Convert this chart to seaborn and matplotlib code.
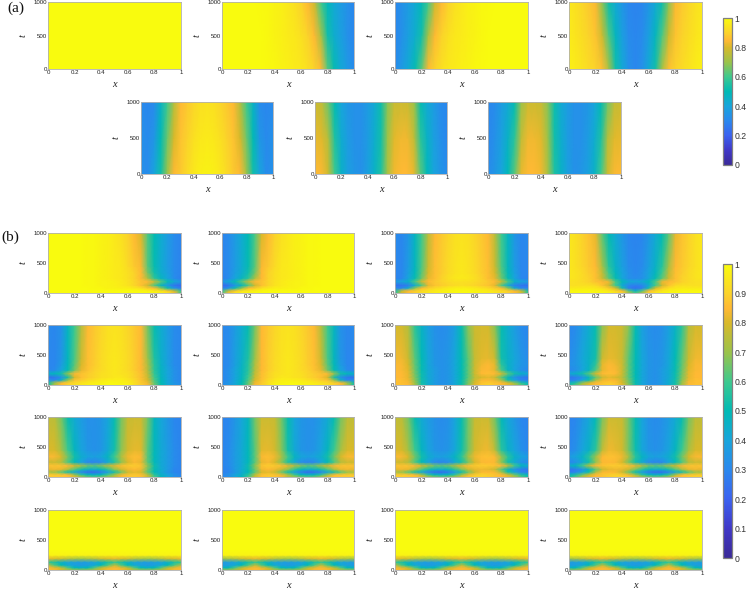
import numpy as np
import matplotlib
matplotlib.use('Agg')
import matplotlib.pyplot as plt
from matplotlib.colors import LinearSegmentedColormap
import seaborn as sns

W, H = 747, 589

T_A = [0, 500, 1000]
T_B = [0, 40, 85, 130, 190, 250, 340, 450, 1000]

A1 = [[1] * 21] * 3
A2 = [[1, 1, 1, 1, 1, 1, 1, .995, .99, .98, .97, .96, .95, .93, .9, .85, .63, .51, .42, .36, .31],
      [1, 1, 1, 1, 1, 1, 1, .99, .98, .97, .96, .95, .93, .9, .85, .72, .53, .44, .385, .33, .3],
      [1, 1, 1, 1, 1, 1, .995, .99, .98, .97, .95, .93, .9, .85, .78, .6, .49, .42, .37, .33, .3]]
A4 = [[.97, .96, .94, .92, .9, .86, .72, .53, .42, .33, .3, .33, .42, .53, .72, .86, .9, .92, .94, .96, .97],
      [.96, .945, .925, .9, .87, .78, .615, .48, .385, .315, .3, .315, .385, .48, .615, .78, .87, .9, .925, .945, .96],
      [.95, .93, .91, .88, .84, .68, .52, .42, .35, .3, .29, .3, .35, .42, .52, .68, .84, .88, .91, .93, .95]]
A5 = [[.33, .315, .4, .53, .7, .85, .88, .92, .95, .97, .98, .97, .95, .92, .88, .85, .7, .53, .4, .315, .33],
      [.33, .31, .35, .5, .65, .8, .87, .9, .93, .95, .96, .95, .93, .9, .87, .8, .65, .5, .35, .31, .33],
      [.315, .3, .315, .46, .6, .74, .85, .88, .91, .93, .94, .93, .91, .88, .85, .74, .6, .46, .315, .3, .315]]
A6 = [[.85, .84, .78, .6, .46, .385, .35, .33, .385, .46, .55, .72, .83, .85, .85, .82, .63, .49, .4, .35, .315],
      [.82, .81, .74, .55, .43, .37, .33, .33, .37, .44, .53, .7, .81, .83, .83, .76, .57, .46, .385, .33, .3],
      [.78, .76, .65, .5, .4, .35, .33, .33, .37, .42, .52, .68, .77, .78, .78, .7, .51, .42, .37, .315, .3]]

B1 = [[1, 1, 1, 1, 1, 1, 1, 1, 1, 1, 1, 1, 1, 1, 1, 1, .99, .98, .96, .85, .615],
      [1, 1, 1, 1, 1, 1, 1, 1, 1, 1, 1, 1, 1, 1, .99, .98, .96, .93, .87, .75, .57],
      [1, 1, 1, 1, 1, 1, 1, .99, .99, .98, .98, .97, .97, .95, .93, .88, .85, .68, .52, .35, .27],
      [1, 1, 1, 1, 1, 1, .99, .99, .98, .98, .97, .96, .94, .91, .86, .78, .615, .48, .35, .25, .22],
      [1, 1, 1, 1, 1, 1, .99, .99, .98, .98, .97, .96, .94, .91, .87, .85, .78, .63, .51, .42, .35],
      [1, 1, 1, 1, 1, 1, .99, .99, .98, .97, .96, .95, .93, .9, .85, .72, .57, .47, .4, .315, .28],
      [1, 1, 1, 1, 1, 1, .99, .99, .98, .97, .96, .95, .93, .9, .85, .66, .53, .44, .385, .315, .29],
      [1, 1, 1, 1, 1, 1, .99, .99, .98, .97, .96, .95, .92, .88, .84, .63, .51, .43, .37, .315, .29],
      [1, 1, 1, 1, 1, 1, .99, .99, .98, .97, .95, .93, .9, .85, .8, .615, .5, .43, .37, .315, .29]]
B3 = [[.57, .8, .86, .9, .93, .95, .97, .98, .99, 1, 1, 1, .99, .98, .97, .95, .93, .9, .86, .8, .57],
      [.53, .75, .85, .89, .92, .94, .96, .97, .98, .99, .99, .99, .98, .97, .96, .94, .92, .89, .85, .75, .53],
      [.3, .3, .44, .68, .85, .89, .92, .94, .96, .97, .97, .97, .96, .94, .92, .89, .85, .68, .44, .3, .3],
      [.24, .25, .28, .44, .615, .82, .87, .89, .91, .92, .93, .92, .91, .89, .87, .82, .615, .44, .28, .25, .24],
      [.37, .4, .46, .615, .78, .85, .88, .9, .92, .93, .93, .93, .92, .9, .88, .85, .78, .615, .46, .4, .37],
      [.29, .3, .4, .51, .65, .82, .86, .9, .93, .95, .96, .95, .93, .9, .86, .82, .65, .51, .4, .3, .29],
      [.3, .3, .385, .49, .63, .8, .86, .89, .92, .94, .95, .94, .92, .89, .86, .8, .63, .49, .385, .3, .3],
      [.3, .3, .37, .48, .615, .78, .86, .89, .92, .94, .95, .94, .92, .89, .86, .78, .615, .48, .37, .3, .3],
      [.315, .3, .35, .47, .6, .75, .85, .88, .91, .93, .94, .93, .91, .88, .85, .75, .6, .47, .35, .3, .315]]
B4 = [[1, 1, 1, 1, 1, 1, .98, .95, .9, .75, .615, .75, .9, .95, .98, 1, 1, 1, 1, 1, 1],
      [.99, .99, .99, .99, .98, .97, .95, .91, .85, .615, .46, .615, .85, .91, .95, .97, .98, .99, .99, .99, .99],
      [.96, .96, .96, .96, .95, .93, .88, .8, .53, .28, .24, .28, .53, .8, .88, .93, .95, .96, .96, .96, .96],
      [.93, .93, .93, .93, .92, .87, .78, .6, .42, .3, .28, .3, .42, .6, .78, .87, .92, .93, .93, .93, .93],
      [.93, .93, .92, .9, .87, .85, .83, .615, .49, .42, .4, .42, .49, .615, .83, .85, .87, .9, .92, .93, .93],
      [.95, .94, .92, .9, .86, .78, .63, .51, .41, .33, .315, .33, .41, .51, .63, .78, .86, .9, .92, .94, .95],
      [.95, .94, .92, .89, .86, .76, .6, .48, .4, .33, .3, .33, .4, .48, .6, .76, .86, .89, .92, .94, .95],
      [.95, .93, .91, .88, .85, .72, .565, .46, .385, .315, .3, .315, .385, .46, .565, .72, .85, .88, .91, .93, .95],
      [.95, .93, .9, .87, .82, .63, .5, .42, .35, .3, .29, .3, .35, .42, .5, .63, .82, .87, .9, .93, .95]]
B5 = [[.53, .72, .85, .9, .93, .95, .97, .98, .99, 1, 1, 1, .99, .93, .89, .84, .65, .51, .42, .35, .315],
      [.52, .7, .84, .89, .92, .94, .96, .97, .98, .99, .99, .98, .97, .93, .88, .83, .64, .5, .41, .35, .315],
      [.33, .3, .46, .7, .87, .89, .92, .94, .96, .97, .97, .97, .95, .92, .87, .8, .615, .49, .41, .33, .3],
      [.24, .26, .33, .53, .8, .86, .89, .91, .93, .94, .95, .95, .93, .9, .86, .78, .6, .48, .4, .33, .3],
      [.46, .49, .53, .7, .85, .87, .89, .91, .93, .94, .95, .94, .93, .9, .86, .76, .58, .47, .4, .33, .3],
      [.3, .315, .4, .51, .66, .82, .87, .9, .92, .94, .95, .94, .92, .89, .85, .74, .57, .47, .4, .33, .3],
      [.3, .3, .37, .49, .63, .8, .86, .89, .92, .94, .95, .94, .92, .89, .85, .73, .565, .46, .385, .315, .3],
      [.3, .3, .35, .48, .615, .78, .86, .89, .92, .94, .95, .94, .92, .89, .85, .7, .55, .45, .385, .315, .3],
      [.315, .3, .33, .47, .6, .74, .85, .88, .91, .93, .94, .93, .91, .88, .85, .66, .51, .43, .37, .315, .3]]
B7 = [[.87, .87, .85, .72, .55, .44, .37, .33, .35, .41, .52, .68, .82, .88, .9, .88, .85, .82, .75, .63, .52],
      [.86, .86, .84, .7, .53, .43, .37, .33, .35, .41, .51, .66, .8, .87, .89, .87, .85, .8, .68, .55, .46],
      [.86, .86, .83, .68, .53, .43, .37, .33, .35, .41, .51, .65, .78, .84, .85, .83, .72, .53, .4, .3, .28],
      [.85, .85, .82, .67, .52, .42, .37, .33, .35, .41, .5, .63, .76, .8, .82, .78, .63, .48, .33, .27, .25],
      [.85, .85, .82, .66, .52, .42, .37, .33, .35, .41, .5, .63, .78, .85, .86, .85, .8, .63, .53, .46, .42],
      [.85, .84, .81, .65, .51, .42, .37, .33, .35, .41, .5, .63, .78, .84, .85, .82, .615, .47, .4, .33, .3],
      [.84, .84, .8, .64, .51, .41, .35, .33, .35, .41, .5, .63, .78, .83, .85, .82, .57, .46, .4, .35, .33],
      [.83, .83, .78, .63, .5, .41, .35, .33, .35, .41, .5, .63, .77, .81, .82, .78, .53, .46, .41, .35, .315],
      [.79, .79, .74, .57, .46, .385, .33, .315, .33, .385, .51, .68, .78, .79, .79, .68, .51, .43, .37, .315, .3]]
B9 = [[.88, .88, .88, .87, .82, .74, .66, .63, .66, .72, .76, .84, .87, .88, .86, .78, .615, .48, .41, .33, .3],
      [.88, .88, .87, .85, .7, .57, .49, .46, .5, .6, .72, .83, .87, .88, .86, .75, .57, .46, .4, .33, .3],
      [.72, .7, .63, .53, .42, .3, .24, .23, .28, .385, .53, .65, .78, .82, .8, .63, .49, .42, .35, .3, .28],
      [.82, .83, .82, .72, .615, .53, .46, .44, .49, .57, .68, .78, .83, .85, .83, .65, .51, .43, .37, .3, .29],
      [.87, .87, .87, .85, .8, .72, .65, .63, .67, .75, .82, .86, .88, .89, .87, .68, .52, .42, .37, .315, .29],
      [.78, .78, .74, .615, .49, .4, .3, .29, .315, .42, .55, .68, .8, .84, .82, .63, .49, .42, .37, .315, .29],
      [.84, .84, .8, .66, .53, .44, .4, .385, .41, .47, .6, .73, .83, .86, .84, .63, .49, .42, .37, .315, .29],
      [.8, .8, .72, .6, .48, .4, .35, .33, .35, .42, .53, .68, .79, .82, .81, .63, .49, .42, .37, .315, .29],
      [.76, .75, .66, .51, .42, .37, .33, .33, .35, .4, .51, .66, .77, .78, .78, .66, .48, .41, .35, .3, .29]]
B11 = [[.9, .9, .89, .87, .83, .75, .68, .65, .68, .74, .82, .88, .9, .9, .89, .87, .85, .82, .75, .63, .53],
       [.88, .88, .87, .85, .72, .57, .49, .46, .49, .57, .7, .83, .88, .9, .89, .87, .85, .78, .65, .55, .48],
       [.72, .7, .63, .53, .42, .3, .24, .23, .27, .37, .52, .65, .78, .84, .85, .84, .72, .53, .41, .3, .27],
       [.82, .83, .82, .72, .615, .53, .46, .44, .48, .565, .66, .77, .82, .83, .82, .78, .63, .48, .33, .27, .25],
       [.87, .87, .87, .85, .8, .72, .65, .63, .66, .74, .82, .86, .88, .89, .88, .87, .85, .75, .6, .49, .44],
       [.78, .78, .74, .615, .49, .4, .3, .29, .315, .42, .53, .66, .8, .84, .85, .84, .68, .53, .42, .33, .3],
       [.84, .84, .8, .66, .53, .44, .4, .385, .41, .47, .57, .72, .83, .86, .87, .85, .7, .57, .46, .4, .37],
       [.8, .8, .72, .6, .48, .4, .35, .33, .35, .41, .52, .66, .79, .82, .83, .76, .57, .46, .4, .33, .3],
       [.76, .75, .66, .51, .42, .37, .33, .315, .33, .4, .51, .65, .77, .78, .78, .66, .49, .41, .35, .3, .29]]
B13 = [[.85, .84, .8, .76, .72, .7, .72, .76, .8, .84, .85, .84, .8, .76, .72, .7, .72, .76, .8, .84, .85],
       [.84, .82, .76, .62, .5, .47, .5, .62, .76, .82, .85, .82, .76, .62, .5, .47, .5, .62, .76, .82, .84],
       [.74, .62, .5, .42, .38, .36, .38, .42, .5, .62, .76, .62, .5, .42, .38, .36, .38, .42, .5, .62, .74],
       [.58, .54, .46, .4, .38, .37, .38, .4, .46, .54, .58, .54, .46, .4, .38, .37, .38, .4, .46, .54, .58],
       [.82, .8, .78, .74, .72, .7, .72, .74, .78, .8, .82, .8, .78, .74, .72, .7, .72, .74, .78, .8, .82],
       [.98] * 21, [1] * 21, [1] * 21, [1] * 21]
B14 = [[.7, .72, .76, .8, .84, .85, .84, .8, .76, .72, .7, .72, .76, .8, .84, .85, .84, .8, .76, .72, .7],
       [.47, .5, .62, .76, .82, .85, .82, .76, .62, .5, .47, .5, .62, .76, .82, .85, .82, .76, .62, .5, .47],
       [.36, .38, .42, .5, .62, .76, .62, .5, .42, .38, .36, .38, .42, .5, .62, .76, .62, .5, .42, .38, .36],
       [.37, .38, .4, .46, .54, .58, .54, .46, .4, .38, .37, .38, .4, .46, .54, .58, .54, .46, .4, .38, .37],
       [.7, .72, .74, .78, .8, .82, .8, .78, .74, .72, .7, .72, .74, .78, .8, .82, .8, .78, .74, .72, .7],
       [.98] * 21, [1] * 21, [1] * 21, [1] * 21]

# panels in reading order, the mirrored runs reuse the array reversed along x
ROW_A = [A1, A2, np.fliplr(A2), A4]
ROW_A2 = [A5, A6, np.fliplr(A6)]
ROWS_B = [[B1, np.fliplr(B1), B3, B4],
          [B5, np.fliplr(B5), B7, np.fliplr(B7)],
          [B9, np.fliplr(B9), B11, np.fliplr(B11)],
          [B13, B14, B13, B14]]

X_TICKS = [0, 0.2, 0.4, 0.6, 0.8, 1]
X_TICK_LABELS = ['0', '0.2', '0.4', '0.6', '0.8', '1']
T_TICKS = [0, 500, 1000]
CBAR_A = [0, 0.2, 0.4, 0.6, 0.8, 1]
CBAR_B = [0, 0.1, 0.2, 0.3, 0.4, 0.5, 0.6, 0.7, 0.8, 0.9, 1]

CMAP_STOPS = [(0, '#3b2a98'), (.1, '#4038c8'), (.2, '#3b62f0'), (.3, '#2a88ee'),
              (.4, '#18a5dc'), (.5, '#00bab5'), (.6, '#3dc98f'), (.7, '#9bc34a'),
              (.8, '#d8b92a'), (.85, '#ffb934'), (.9, '#fbd22c'), (1, '#f9fb0e')]

sns.set_theme(style='white')
plt.rcParams['font.family'] = ['Liberation Sans', 'DejaVu Sans']
cmap = LinearSegmentedColormap.from_list('parula_like', CMAP_STOPS)

fig = plt.figure(figsize=(W / 100, H / 100), dpi=100)


def addAxes(x0, y0, x1, y1):
    return fig.add_axes([x0 / W, 1 - y1 / H, (x1 - x0) / W, (y1 - y0) / H])


def drawPanel(values, tGrid, x0, y0, x1, y1):
    ax = addAxes(x0, y0, x1, y1)
    values = np.asarray(values, dtype=float)
    rows = np.arange(len(tGrid))
    xStep = 1 / (values.shape[1] - 1)
    sns.heatmap(values, ax=ax, cmap=cmap, vmin=0, vmax=1, cbar=False, square=False,
                xticklabels=False, yticklabels=False, shading='gouraud')
    # rows are not evenly spaced in t, so the y axis goes through the t grid
    ax.set_yscale('function', functions=(lambda i: np.interp(i, rows, tGrid),
                                         lambda t: np.interp(t, tGrid, rows)))
    ax.set_xlim(0, values.shape[1] - 1)
    ax.set_ylim(0, len(tGrid) - 1)
    ax.set_xticks([v / xStep for v in X_TICKS], X_TICK_LABELS)
    ax.set_yticks(np.interp(T_TICKS, tGrid, rows), [str(t) for t in T_TICKS])
    ax.minorticks_off()
    ax.tick_params(labelsize=4.4, length=1, width=0.4, pad=0.8, color='#888888',
                   labelcolor='#222222', direction='in', left=True, bottom=True)
    for spine in ax.spines.values():
        spine.set_visible(True)
        spine.set_color('#b0b0b0')
        spine.set_linewidth(0.6)
    ax.set_xlabel('x', family='Liberation Serif', style='italic', fontsize=7.5, color='#222222')
    ax.set_ylabel('t', family='Liberation Serif', style='italic', fontsize=7.5, color='#222222')
    ax.xaxis.set_label_coords(0.5, -11 / (y1 - y0))
    ax.yaxis.set_label_coords(-20 / (x1 - x0), 0.5)
    return ax


LEFT_A = [(48, 181), (222, 354), (395, 528), (569, 702)]
LEFT_A2 = [(141, 273), (315, 447), (488, 621)]
ROWS_B_Y = [(233, 293), (325, 385), (417, 477), (510, 570)]

for values, (x0, x1) in zip(ROW_A, LEFT_A):
    lastAx = drawPanel(values, T_A, x0, 2, x1, 69)
for values, (x0, x1) in zip(ROW_A2, LEFT_A2):
    drawPanel(values, T_A, x0, 102, x1, 174)
for rowValues, (y0, y1) in zip(ROWS_B, ROWS_B_Y):
    for values, (x0, x1) in zip(rowValues, LEFT_A):
        drawPanel(values, T_B, x0, y0, x1, y1)

for ticks, (y0, y1) in zip([CBAR_A, CBAR_B], [(18, 165), (264, 558)]):
    cax = addAxes(723, y0, 732, y1)
    cbar = fig.colorbar(lastAx.collections[0], cax=cax, ticks=ticks)
    cbar.ax.set_yticklabels([f'{v:g}' for v in ticks])
    cbar.ax.tick_params(labelsize=6.2, length=2, width=0.6, color='#888888', direction='in',
                        labelcolor='#333333', pad=2, right=True, left=False)
    cbar.outline.set_edgecolor('#808080')
    cbar.outline.set_linewidth(0.9)

fig.text(7 / W, 1 - 8 / H, '(a)', family='Liberation Serif', fontsize=11, va='center', color='#111111')
fig.text(1 / W, 1 - 237 / H, '(b)', family='Liberation Serif', fontsize=11, va='center', color='#111111')

fig.savefig('out.png', dpi=100)
